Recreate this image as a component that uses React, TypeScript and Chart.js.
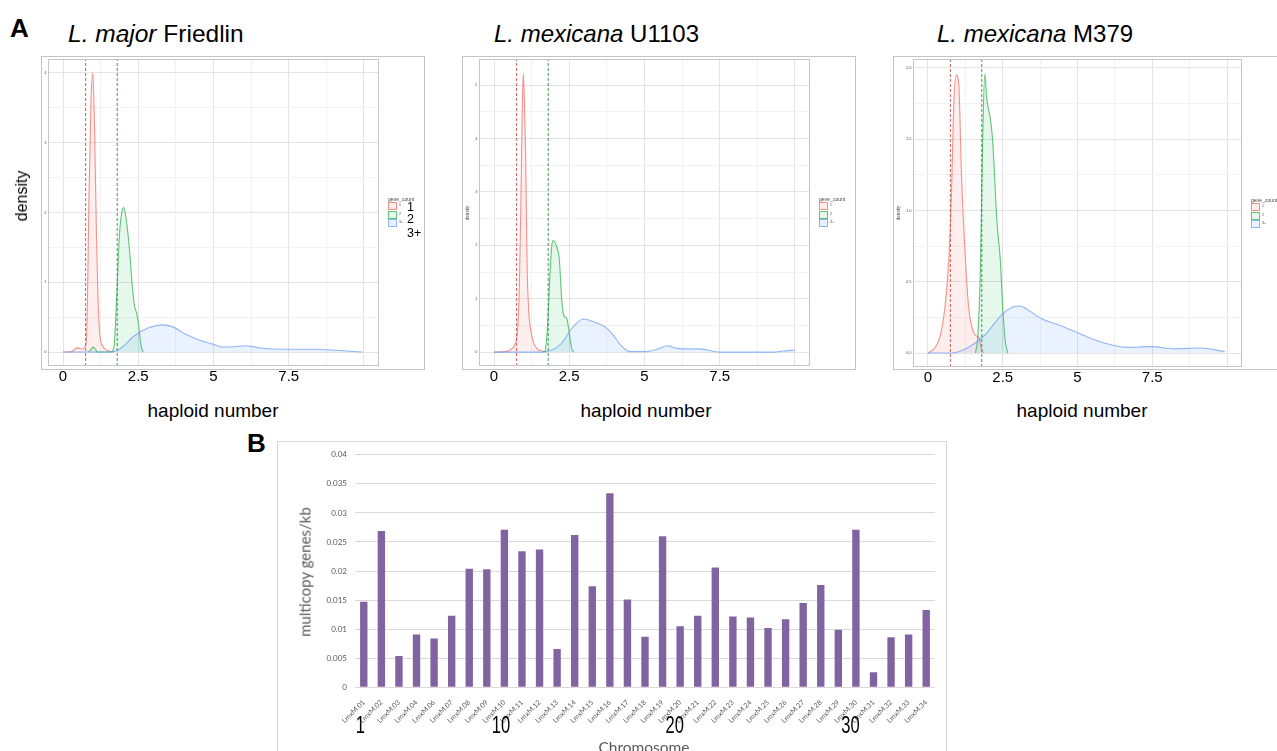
import React, { useEffect, useRef } from "react";
import { Chart, registerables } from "chart.js";
Chart.register(...registerables);

// ---------- Panel A: density of haploid number ----------
const xMajor = [0, 2.5, 5, 7.5, 10];
const xMinor = [1.25, 3.75, 6.25, 8.75];
const cutoffs = [0.75, 1.8];
const groupLabels = ["1", "2", "3+"];

// L. major Friedlin
const majorRedX = [0, 0.3, 0.42, 0.5, 0.6, 0.7, 0.77, 0.81, 0.86, 0.93, 0.99, 1.05, 1.11, 1.16, 1.22, 1.33, 1.5, 1.7];
const majorRedY = [0, 0.01, 0.05, 0.06, 0.04, 0.06, 0.15, 0.7, 2.2, 3.6, 4.0, 3.14, 1.7, 0.8, 0.27, 0.08, 0.02, 0];
const majorGreenX = [0.85, 0.95, 1.0, 1.06, 1.15, 1.6, 1.7, 1.78, 1.87, 1.95, 2.02, 2.1, 2.21, 2.3, 2.38, 2.45, 2.5, 2.6, 2.66];
const majorGreenY = [0, 0.05, 0.07, 0.05, 0, 0, 0.1, 0.75, 1.65, 2.0, 2.07, 1.9, 1.46, 0.95, 0.65, 0.55, 0.42, 0.08, 0];
const majorBlueX = [0, 1.5, 1.78, 2.0, 2.33, 2.8, 3.32, 3.7, 4.1, 4.54, 5.0, 5.3, 5.7, 6.06, 6.4, 6.7, 7.25, 8.35, 8.9, 9.4, 9.95];
const majorBlueY = [0, 0, 0.02, 0.08, 0.22, 0.34, 0.39, 0.35, 0.25, 0.17, 0.11, 0.07, 0.075, 0.09, 0.07, 0.05, 0.04, 0.04, 0.03, 0.015, 0];

// L. mexicana U1103
const u1103RedX = [0, 0.4, 0.6, 0.7, 0.78, 0.84, 0.89, 0.93, 0.97, 1.01, 1.05, 1.1, 1.15, 1.2, 1.3, 1.45, 1.6, 1.75];
const u1103RedY = [0, 0.01, 0.07, 0.15, 0.4, 1.2, 2.7, 4.3, 5.22, 4.7, 3.7, 1.6, 0.8, 0.48, 0.2, 0.05, 0.02, 0];
const u1103GreenX = [1.6, 1.69, 1.77, 1.86, 1.92, 1.97, 2.03, 2.08, 2.17, 2.25, 2.33, 2.41, 2.5, 2.58, 2.65];
const u1103GreenY = [0, 0.02, 0.42, 1.48, 2.0, 2.09, 2.05, 1.98, 1.73, 0.98, 0.67, 0.64, 0.36, 0.07, 0];
const u1103BlueX = [0, 1.5, 1.75, 2.2, 2.64, 2.97, 3.3, 3.74, 3.96, 4.24, 4.52, 5.07, 5.5, 5.74, 6.07, 6.5, 6.84, 7.5, 9.28, 9.6, 10.0];
const u1103BlueY = [0, 0, 0.01, 0.14, 0.48, 0.62, 0.57, 0.45, 0.32, 0.11, 0.01, 0.01, 0.07, 0.12, 0.07, 0.06, 0.06, 0, 0, 0.02, 0.04];

// L. mexicana M379
const m379RedX = [0, 0.25, 0.42, 0.57, 0.7, 0.79, 0.86, 0.95, 1.03, 1.12, 1.25, 1.36, 1.47, 1.61, 1.7, 1.8, 1.86];
const m379RedY = [0, 0.04, 0.13, 0.32, 0.67, 1.14, 1.73, 1.95, 1.89, 1.26, 0.67, 0.32, 0.18, 0.12, 0.11, 0.02, 0];
const m379GreenX = [1.59, 1.67, 1.75, 1.83, 1.9, 1.97, 2.08, 2.16, 2.31, 2.42, 2.5, 2.58, 2.67];
const m379GreenY = [0, 0.13, 0.56, 1.5, 1.96, 1.78, 1.65, 1.5, 0.91, 0.65, 0.32, 0.09, 0];
const m379BlueX = [0, 0.8, 1.36, 1.92, 2.47, 2.8, 3.08, 3.36, 3.8, 4.47, 5.13, 5.8, 6.69, 7.46, 8.24, 9.12, 9.92];
const m379BlueY = [0, 0, 0.04, 0.13, 0.27, 0.32, 0.33, 0.3, 0.24, 0.19, 0.13, 0.075, 0.04, 0.045, 0.03, 0.035, 0.01];

// ---------- Panel B: multicopy genes per kb ----------
const chromosomes = [
  "LmxM.01", "LmxM.02", "LmxM.03", "LmxM.04", "LmxM.06", "LmxM.07", "LmxM.08", "LmxM.09", "LmxM.10", "LmxM.11",
  "LmxM.12", "LmxM.13", "LmxM.14", "LmxM.15", "LmxM.16", "LmxM.17", "LmxM.18", "LmxM.19", "LmxM.20", "LmxM.21",
  "LmxM.22", "LmxM.23", "LmxM.24", "LmxM.25", "LmxM.26", "LmxM.27", "LmxM.28", "LmxM.29", "LmxM.30", "LmxM.31",
  "LmxM.32", "LmxM.33", "LmxM.34",
];
const multicopyGenesPerKb = [
  0.0147, 0.0269, 0.0054, 0.0091, 0.0084, 0.0123, 0.0204, 0.0203, 0.0271, 0.0234,
  0.0237, 0.0066, 0.0262, 0.0174, 0.0334, 0.0151, 0.0087, 0.026, 0.0105, 0.0123,
  0.0206, 0.0122, 0.012, 0.0102, 0.0117, 0.0145, 0.0176, 0.0099, 0.0271, 0.0026,
  0.0086, 0.0091, 0.0133,
];
const chromosomeMarks = ["LmxM.01", "LmxM.10", "LmxM.20", "LmxM.30"];
const chromosomeMarkText = ["1", "10", "20", "30"];

// ---------- styles ----------
const SANS = "'Liberation Sans', Arial, Helvetica, sans-serif";
const LATO = "Lato, 'Open Sans', 'Noto Sans', sans-serif";
const GROUP_STYLE = [
  { line: "rgba(240,120,112,0.8)", fill: "rgba(248,118,109,0.12)" },
  { line: "rgba(45,178,80,0.75)", fill: "rgba(0,186,56,0.1)" },
  { line: "rgba(110,160,250,0.75)", fill: "rgba(97,156,255,0.13)" },
];
const CUT_STYLE = ["rgba(200,75,70,0.9)", "rgba(45,135,65,0.9)"];

function pts(xs: number[], ys: number[]) {
  return xs.map((x, i) => ({ x, y: ys[i] }));
}
const isIn = (arr: number[], v: number) => arr.some((m) => Math.abs(m - v) < 1e-9);

type Panel = {
  left: number; top: number; width: number; height: number;
  area: { left: number; top: number; right: number; bottom: number };
  yMin: number; yMax: number; yMajor: number[]; yMinor: number[];
  yFmt: (v: number) => string;
  series: [number[], number[]][];
};

const panels: Panel[] = [
  {
    left: 0, top: 50, width: 440, height: 350,
    area: { left: 48, top: 9, right: 379, bottom: 316 },
    yMin: -0.2, yMax: 4.2, yMajor: [0, 1, 2, 3, 4], yMinor: [0.5, 1.5, 2.5, 3.5],
    yFmt: (v) => String(v),
    series: [[majorRedX, majorRedY], [majorGreenX, majorGreenY], [majorBlueX, majorBlueY]],
  },
  {
    left: 440, top: 50, width: 430, height: 350,
    area: { left: 39, top: 9, right: 370, bottom: 316 },
    yMin: -0.26, yMax: 5.49, yMajor: [0, 1, 2, 3, 4, 5], yMinor: [0.5, 1.5, 2.5, 3.5, 4.5],
    yFmt: (v) => String(v),
    series: [[u1103RedX, u1103RedY], [u1103GreenX, u1103GreenY], [u1103BlueX, u1103BlueY]],
  },
  {
    left: 870, top: 50, width: 407, height: 350,
    area: { left: 43, top: 9, right: 372, bottom: 317 },
    yMin: -0.098, yMax: 2.063, yMajor: [0, 0.5, 1, 1.5, 2], yMinor: [0.25, 0.75, 1.25, 1.75],
    yFmt: (v) => v.toFixed(1),
    series: [[m379RedX, m379RedY], [m379GreenX, m379GreenY], [m379BlueX, m379BlueY]],
  },
];

const borderPlugin = {
  id: "panelBorder",
  afterDatasetsDraw(chart: any) {
    const { ctx, chartArea: a } = chart;
    ctx.save();
    ctx.strokeStyle = "#c6c6c6";
    ctx.lineWidth = 1;
    ctx.strokeRect(Math.round(a.left) + 0.5, Math.round(a.top) + 0.5, Math.round(a.right - a.left) - 1, Math.round(a.bottom - a.top) - 1);
    ctx.restore();
  },
};

function DensityChart({ p }: { p: Panel }) {
  const ref = useRef<HTMLCanvasElement>(null);
  useEffect(() => {
    const xAll = [...xMajor, ...xMinor].sort((a, b) => a - b);
    const yAll = [...p.yMajor, ...p.yMinor].sort((a, b) => a - b);
    const datasets: any[] = [];
    cutoffs.forEach((c, i) =>
      datasets.push({
        data: [{ x: c, y: p.yMin }, { x: c, y: p.yMax }],
        borderColor: CUT_STYLE[i], borderWidth: 1, borderDash: [3, 2], pointRadius: 0, fill: false,
      })
    );
    [2, 1, 0].forEach((g) => {
      const [xs, ys] = p.series[g];
      datasets.push({
        data: pts(xs, ys),
        borderColor: GROUP_STYLE[g].line,
        backgroundColor: GROUP_STYLE[g].fill,
        borderWidth: 1.1, pointRadius: 0, fill: "origin", cubicInterpolationMode: "monotone",
      });
    });
    const chart = new Chart(ref.current as HTMLCanvasElement, {
      type: "line",
      data: { datasets },
      options: {
        animation: false, responsive: false, devicePixelRatio: 1, events: [],
        layout: { padding: { left: 0, top: p.area.top, right: p.width - p.area.right, bottom: 0 } },
        plugins: { legend: { display: false }, tooltip: { enabled: false } },
        scales: {
          x: {
            type: "linear", min: -0.5, max: 10.5,
            afterBuildTicks: (s: any) => { s.ticks = xAll.map((v) => ({ value: v })); },
            afterFit: (s: any) => { s.height = p.height - p.area.bottom; },
            ticks: {
              autoSkip: false, maxRotation: 0, padding: 2, color: "#000",
              font: { family: SANS, size: 15 },
              callback: (v: any) => (isIn(xMajor, v) && v !== 10 ? String(v) : ""),
            },
            grid: {
              drawTicks: false,
              color: (c: any) => (isIn(xMajor, c.tick ? c.tick.value : NaN) ? "#e4e4e4" : "#f2f2f2"),
            },
            border: { display: false },
          },
          y: {
            type: "linear", min: p.yMin, max: p.yMax,
            afterBuildTicks: (s: any) => { s.ticks = yAll.map((v) => ({ value: v })); },
            afterFit: (s: any) => { s.width = p.area.left; },
            ticks: {
              autoSkip: false, padding: 1.5, color: "#555",
              font: { family: SANS, size: 4 },
              callback: (v: any) => (isIn(p.yMajor, v) ? p.yFmt(v) : ""),
            },
            grid: {
              drawTicks: false,
              color: (c: any) => (isIn(p.yMajor, c.tick ? c.tick.value : NaN) ? "#e4e4e4" : "#f2f2f2"),
            },
            border: { display: false },
          },
        },
      } as any,
      plugins: [borderPlugin],
    });
    return () => chart.destroy();
  }, [p]);
  return (
    <canvas ref={ref} width={p.width} height={p.height}
      style={{ position: "absolute", left: p.left, top: p.top, width: p.width, height: p.height }} />
  );
}

const marksPlugin = {
  id: "chromMarks",
  afterDraw(chart: any) {
    const { ctx } = chart;
    const xs = chart.scales.x;
    ctx.save();
    ctx.fillStyle = "#000";
    ctx.font = `23px ${SANS}`;
    ctx.textAlign = "center";
    ctx.textBaseline = "alphabetic";
    chromosomeMarks.forEach((lab, i) => {
      const idx = chromosomes.indexOf(lab);
      const x = xs.getPixelForValue(idx) - 3.5 - (i >= 2 ? 2 : 0);
      ctx.save();
      ctx.translate(x, 291);
      ctx.scale(0.72, 1);
      ctx.fillText(chromosomeMarkText[i], 0, 0);
      ctx.restore();
    });
    ctx.restore();
  },
};

function BarChart() {
  const ref = useRef<HTMLCanvasElement>(null);
  const W = 668, H = 309;
  useEffect(() => {
    const chart = new Chart(ref.current as HTMLCanvasElement, {
      type: "bar",
      data: {
        labels: chromosomes,
        datasets: [{
          data: multicopyGenesPerKb, backgroundColor: "#8064A2",
          barPercentage: 0.42, categoryPercentage: 1,
        }],
      },
      options: {
        animation: false, responsive: false, devicePixelRatio: 1, events: [],
        layout: { padding: { left: 0, top: 12, right: 9, bottom: 0 } },
        plugins: { legend: { display: false }, tooltip: { enabled: false } },
        scales: {
          x: {
            grid: { display: false }, border: { display: false },
            afterFit: (s: any) => { s.height = 63.7; },
            ticks: {
              autoSkip: false, minRotation: 45, maxRotation: 45, padding: 3,
              color: "#595959", font: { family: LATO, size: 7 },
            },
          },
          y: {
            min: 0, max: 0.04,
            afterFit: (s: any) => { s.width = 79; },
            ticks: {
              stepSize: 0.005, padding: 8, color: "#595959",
              font: { family: LATO, size: 8 },
              callback: (v: any) => String(+(+v).toFixed(3)),
            },
            grid: { color: "#d9d9d9", drawTicks: false },
            border: { display: false },
          },
        },
      } as any,
      plugins: [marksPlugin],
    });
    return () => chart.destroy();
  }, []);
  return (
    <canvas ref={ref} width={W} height={H}
      style={{ position: "absolute", left: 276, top: 442, width: W, height: H }} />
  );
}

function Txt(props: {
  x: number; y: number; fs: number; children: React.ReactNode; family?: string;
  weight?: any; color?: string; center?: boolean; asc?: number;
}) {
  const asc = props.asc ?? 0.8465;
  return (
    <div style={{
      position: "absolute", left: props.x, top: props.y - asc * props.fs, fontSize: props.fs,
      lineHeight: 1, fontFamily: props.family ?? SANS, fontWeight: props.weight ?? "normal",
      color: props.color ?? "#000", whiteSpace: "nowrap",
      transform: props.center ? "translateX(-50%)" : undefined,
    }}>{props.children}</div>
  );
}

function VTxt(props: { cx: number; cy: number; fs: number; children: React.ReactNode; family?: string; color?: string }) {
  return (
    <div style={{
      position: "absolute", left: props.cx, top: props.cy, fontSize: props.fs, lineHeight: 1,
      fontFamily: props.family ?? SANS, color: props.color ?? "#000", whiteSpace: "nowrap",
      transform: "translate(-50%,-50%) rotate(-90deg)",
    }}>{props.children}</div>
  );
}

function GeneLegend({ x, y }: { x: number; y: number }) {
  return (
    <>
      <div style={{ position: "absolute", left: x, top: y, fontSize: 5, lineHeight: 1, fontFamily: SANS, color: "#444", whiteSpace: "nowrap" }}>gene_count</div>
      {groupLabels.map((g, i) => (
        <React.Fragment key={g}>
          <div style={{
            position: "absolute", left: x, top: y + 5 + i * 8.5, width: 9, height: 8, boxSizing: "border-box",
            border: `1px solid ${GROUP_STYLE[i].line}`, background: GROUP_STYLE[i].fill,
          }} />
          <div style={{ position: "absolute", left: x + 11, top: y + 7 + i * 8.5, fontSize: 3.5, lineHeight: 1, fontFamily: SANS, color: "#444" }}>{g}</div>
        </React.Fragment>
      ))}
    </>
  );
}

const box = (l: number, t: number, w: number, h: number, c: string): React.CSSProperties => ({
  position: "absolute", left: l, top: t, width: w, height: h, border: `1px solid ${c}`, boxSizing: "border-box",
});

export default function App() {
  return (
    <div style={{ position: "absolute", left: 0, top: 0, width: 1277, height: 751, overflow: "hidden", background: "#fff" }}>
      {/* Panel A outer boxes */}
      <div style={box(41, 56, 384, 314, "#c4c4c4")} />
      <div style={box(462, 56, 394, 314, "#c4c4c4")} />
      <div style={box(893, 56, 420, 314, "#c4c4c4")} />
      {panels.map((p, i) => <DensityChart key={i} p={p} />)}

      <Txt x={10} y={37} fs={26} weight="bold">A</Txt>
      <Txt x={68} y={42.5} fs={24.5}><i>L. major</i> Friedlin</Txt>
      <Txt x={494} y={42.5} fs={24}><i>L. mexicana</i> U1103</Txt>
      <Txt x={937} y={42.5} fs={24}><i>L. mexicana</i> M379</Txt>

      <VTxt cx={22} cy={196} fs={16}>density</VTxt>
      <VTxt cx={468} cy={213} fs={4.5} color="#444">density</VTxt>
      <VTxt cx={899} cy={213} fs={4.5} color="#444">density</VTxt>

      <Txt x={213} y={417} fs={19} center>haploid number</Txt>
      <Txt x={646} y={417} fs={19} center>haploid number</Txt>
      <Txt x={1082} y={417} fs={19} center>haploid number</Txt>

      <GeneLegend x={388} y={197} />
      <GeneLegend x={819} y={197} />
      <GeneLegend x={1251} y={198} />
      <Txt x={407} y={212} fs={12.5}>1</Txt>
      <Txt x={407} y={224} fs={12.5}>2</Txt>
      <Txt x={407} y={237.5} fs={12.5}>3+</Txt>

      {/* Panel B */}
      <div style={box(277, 441, 670, 330, "#d9d9d9")} />
      <BarChart />
      <Txt x={247} y={452} fs={26} weight="bold">B</Txt>
      <VTxt cx={305} cy={572} fs={15} family={LATO} color="#595959">multicopy genes/kb</VTxt>
      <Txt x={644} y={754} fs={15.5} family={LATO} color="#595959" asc={0.887} center>Chromosome</Txt>
    </div>
  );
}
